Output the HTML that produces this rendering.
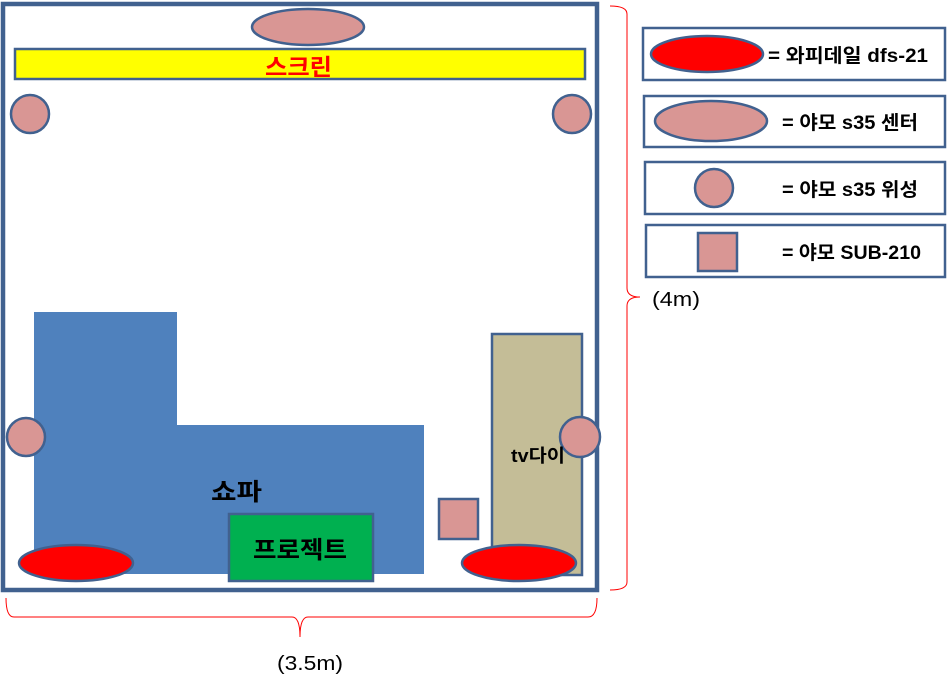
<!DOCTYPE html>
<html><head><meta charset="utf-8"><style>
html,body{margin:0;padding:0;background:#fff;}
svg{display:block;}
text{font-family:"Liberation Sans","Noto Sans CJK KR",sans-serif;}
</style></head><body>
<svg width="949" height="681" viewBox="0 0 949 681" xmlns="http://www.w3.org/2000/svg">
<g stroke="#41618f" stroke-width="2.5">
<polygon points="34,312 177,312 177,425 424,425 424,574 34,574" fill="#4f81bd" stroke="none"/>
<rect x="3" y="4" width="594" height="586" fill="none" stroke-width="4.5"/>
<ellipse cx="308" cy="27" rx="56" ry="18" fill="#d99694"/>
<rect x="15" y="49" width="570" height="30" fill="#ffff00"/>
<circle cx="30" cy="114" r="19" fill="#d99694"/>
<circle cx="572" cy="114" r="19" fill="#d99694"/>
<rect x="492" y="334" width="90" height="241" fill="#c4bd97"/>
<circle cx="26" cy="437" r="19" fill="#d99694"/>
<circle cx="580" cy="437" r="20" fill="#d99694"/>
<rect x="229" y="514" width="144" height="67" fill="#00b050"/>
<rect x="439" y="499" width="39" height="40" fill="#d99694"/>
<ellipse cx="76" cy="563" rx="57" ry="18" fill="#ff0000"/>
<ellipse cx="519" cy="563" rx="57" ry="18" fill="#ff0000"/>
<rect x="643" y="28" width="302" height="52" fill="#fff"/>
<ellipse cx="707" cy="54" rx="56" ry="18" fill="#ff0000"/>
<rect x="644" y="96" width="301" height="51" fill="#fff"/>
<ellipse cx="711" cy="121" rx="56" ry="20" fill="#d99694"/>
<rect x="645" y="162" width="300" height="52" fill="#fff"/>
<circle cx="714" cy="188" r="19" fill="#d99694"/>
<rect x="646" y="225" width="299" height="52" fill="#fff"/>
<rect x="698" y="233" width="39" height="38" fill="#d99694"/>
</g>
<g fill="none" stroke="#ff0000" stroke-width="1">
<path d="M610,6 Q627,6 627,14 L627,288 Q627,297 640,297 Q627,297 627,306 L627,582 Q627,590 610,590"/>
<path d="M6,598 Q6,617 14,617 L292,617 Q300,617 300,637 Q300,617 308,617 L588,617 Q597,617 597,598"/>
</g>
<text x="265" y="75" font-size="23" font-weight="bold" fill="#ff0000" textLength="67" lengthAdjust="spacingAndGlyphs">스크린</text>
<text x="211" y="500" font-size="24" font-weight="bold" fill="#000" textLength="51" lengthAdjust="spacingAndGlyphs">쇼파</text>
<text x="253" y="558" font-size="24" font-weight="bold" fill="#000" textLength="94" lengthAdjust="spacingAndGlyphs">프로젝트</text>
<text x="511" y="462" font-size="18" font-weight="bold" fill="#000" textLength="54" lengthAdjust="spacingAndGlyphs">tv다이</text>
<text x="652" y="306" font-size="20" fill="#000" textLength="48" lengthAdjust="spacingAndGlyphs">(4m)</text>
<text x="277" y="670" font-size="20" fill="#000" textLength="66" lengthAdjust="spacingAndGlyphs">(3.5m)</text>
<text x="768" y="62" font-size="19" font-weight="bold" fill="#000" textLength="160" lengthAdjust="spacingAndGlyphs">= 와피데일 dfs-21</text>
<text x="782" y="129" font-size="19" font-weight="bold" fill="#000" textLength="136" lengthAdjust="spacingAndGlyphs">= 야모 s35 센터</text>
<text x="782" y="196" font-size="19" font-weight="bold" fill="#000" textLength="136" lengthAdjust="spacingAndGlyphs">= 야모 s35 위성</text>
<text x="782" y="259" font-size="19" font-weight="bold" fill="#000" textLength="139" lengthAdjust="spacingAndGlyphs">= 야모 SUB-210</text>
</svg>
</body></html>
